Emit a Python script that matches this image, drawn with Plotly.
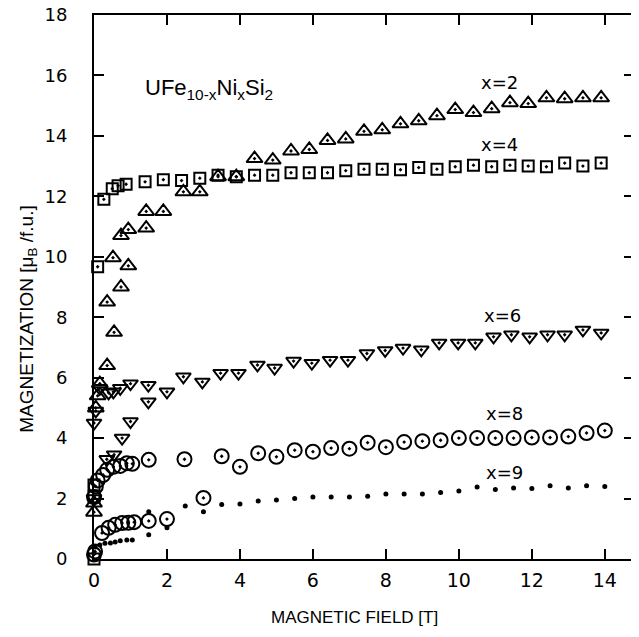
import plotly.graph_objects as go

# ---- data (field in T, magnetization in mu_B / f.u.) ----
x2_field = [0.0, 0.0, 0.05, 0.1, 0.16, 0.36, 0.55, 0.36, 0.74, 0.52, 0.94, 0.74, 0.94, 1.43, 1.43, 1.9,
            2.45, 2.9, 3.4, 3.9, 4.4, 4.9, 5.4, 5.9, 6.4, 6.9, 7.4, 7.9, 8.4, 8.9, 9.4, 9.9, 10.4, 10.9,
            11.4, 11.9, 12.4, 12.9, 13.4, 13.9]
x2_mag = [1.55, 1.85, 5.0, 5.4, 5.8, 6.4, 7.5, 8.5, 9.0, 9.97, 9.7, 10.7, 10.9, 10.95, 11.5, 11.5,
          12.15, 12.15, 12.65, 12.65, 13.25, 13.2, 13.5, 13.55, 13.85, 13.9, 14.15, 14.2, 14.4, 14.5,
          14.67, 14.87, 14.77, 14.9, 15.1, 15.07, 15.26, 15.23, 15.26, 15.26]

x4_field = [0.0, 0.0, 0.0, 0.1, 0.27, 0.5, 0.66, 0.88, 1.4, 1.9, 2.4, 2.9, 3.4, 3.9, 4.4, 4.9, 5.4, 5.9,
            6.4, 6.9, 7.4, 7.9, 8.4, 8.9, 9.4, 9.9, 10.4, 10.9, 11.4, 11.9, 12.4, 12.9, 13.4, 13.9]
x4_mag = [0.0, 2.05, 2.45, 9.67, 11.9, 12.25, 12.35, 12.4, 12.48, 12.55, 12.52, 12.6, 12.7, 12.65, 12.7,
          12.7, 12.78, 12.78, 12.78, 12.85, 12.9, 12.9, 12.88, 12.95, 12.9, 12.98, 13.03, 12.98, 13.03,
          13.0, 12.98, 13.1, 13.0, 13.1]

x6_field = [0.0, 0.0, 0.05, 0.16, 0.4, 0.53, 0.72, 1.0, 1.0, 0.77, 0.55, 0.35, 1.49, 1.49, 2.0, 2.45,
            2.97, 3.47, 3.96, 4.48, 4.95, 5.47, 5.97, 6.47, 6.96, 7.48, 7.98, 8.47, 8.97, 9.46, 9.98,
            10.45, 10.95, 11.44, 11.94, 12.43, 12.9, 13.4, 13.9]
x6_mag = [2.0, 4.5, 4.9, 5.65, 5.5, 5.53, 5.65, 5.8, 4.55, 4.0, 3.45, 3.3, 5.75, 5.2, 5.53, 6.03, 5.86,
          6.15, 6.15, 6.42, 6.32, 6.55, 6.48, 6.58, 6.58, 6.8, 6.9, 6.98, 6.92, 7.15, 7.15, 7.15, 7.35,
          7.42, 7.35, 7.42, 7.42, 7.58, 7.48]

x8_field = [0.0, 0.03, 0.22, 0.4, 0.58, 0.77, 0.94, 1.1, 1.5, 2.0, 3.0, 0.0, 0.05, 0.1, 0.25, 0.36, 0.53,
            0.72, 0.9, 1.05, 1.5, 2.48, 3.5, 4.0, 4.5, 5.0, 5.5, 6.0, 6.5, 7.0, 7.5, 8.0, 8.5, 9.0, 9.5,
            10.0, 10.5, 11.0, 11.5, 12.0, 12.5, 13.0, 13.5, 14.0]
x8_mag = [0.15, 0.25, 0.86, 1.03, 1.13, 1.19, 1.2, 1.22, 1.26, 1.32, 2.02, 2.05, 2.4, 2.6, 2.78, 2.95,
          3.05, 3.08, 3.17, 3.15, 3.28, 3.3, 3.4, 3.05, 3.5, 3.38, 3.6, 3.55, 3.67, 3.65, 3.85, 3.7,
          3.87, 3.9, 3.93, 4.0, 4.0, 4.0, 4.0, 4.02, 4.02, 4.05, 4.17, 4.25]

x9_field = [0.0, 0.03, 0.16, 0.3, 0.45, 0.58, 0.72, 0.9, 1.05, 1.5, 1.5, 2.0, 2.5, 3.0, 3.5, 4.0, 4.5,
            5.0, 5.5, 6.0, 6.5, 7.0, 7.5, 8.0, 8.5, 9.0, 9.5, 10.0, 10.5, 11.0, 11.5, 12.0, 12.5, 13.0,
            13.5, 14.0]
x9_mag = [0.2, 0.4, 0.46, 0.52, 0.53, 0.56, 0.6, 0.63, 0.63, 0.8, 1.56, 1.03, 1.75, 1.56, 1.8, 1.82,
          1.92, 1.95, 2.0, 2.05, 2.05, 2.05, 2.08, 2.15, 2.15, 2.15, 2.2, 2.25, 2.38, 2.3, 2.35, 2.33,
          2.42, 2.35, 2.42, 2.4]

series_labels = ["x=2", "x=4", "x=6", "x=8", "x=9"]
label_pos_x = [11.1, 11.1, 11.2, 11.25, 11.25]
label_pos_y = [15.76, 13.7, 8.05, 4.83, 2.85]

x_ticks = [0, 2, 4, 6, 8, 10, 12, 14]
y_ticks = [0, 2, 4, 6, 8, 10, 12, 14, 16, 18]

fig = go.Figure()

def add(xs, ys, symbol, size, lw=2):
    fig.add_trace(go.Scatter(
        x=xs, y=ys, mode="markers", cliponaxis=False, showlegend=False,
        marker=dict(symbol=symbol, size=size, color="black",
                    line=dict(color="black", width=lw))))

add(x2_field, x2_mag, "triangle-up-open-dot", 14)
add(x4_field, x4_mag, "square-open-dot", 11)
add(x6_field, x6_mag, "triangle-down-open-dot", 13)
add(x8_field, x8_mag, "circle-open-dot", 14)
add(x9_field, x9_mag, "circle", 5, 0)

for t, lx, ly in zip(series_labels, label_pos_x, label_pos_y):
    fig.add_annotation(x=lx, y=ly, text=t, showarrow=False,
                       font=dict(family="DejaVu Sans", size=18, color="black"))

fig.add_annotation(x=1.33, y=15.55, xanchor="left", yanchor="middle",
                   text="UFe<sub>10-x</sub>Ni<sub>x</sub>Si<sub>2</sub>", showarrow=False,
                   font=dict(family="Liberation Sans", size=22, color="black"))

fig.add_annotation(xref="paper", yref="paper", x=0.483, y=-0.108, xanchor="center", yanchor="middle",
                   text="MAGNETIC FIELD [T]",
                   showarrow=False, font=dict(family="Liberation Sans", size=17, color="black"))
fig.add_annotation(xref="paper", yref="paper", x=-0.122, y=0.44, xanchor="center", yanchor="middle",
                   textangle=-90, text="MAGNETIZATION [μ<sub>B</sub> /f.u.]",
                   showarrow=False, font=dict(family="Liberation Sans", size=19, color="black"))

axis_common = dict(showline=True, linecolor="black", linewidth=2, mirror="ticks",
                   ticks="inside", ticklen=10, tickwidth=1.5, tickcolor="black",
                   showgrid=False, zeroline=False, automargin=False, ticklabeloverflow="allow")

fig.update_xaxes(range=[0, 14.8], tickvals=x_ticks, ticklabelstandoff=3,
                 tickfont=dict(family="DejaVu Sans", size=19, color="black"), **axis_common)
fig.update_yaxes(range=[0, 18], tickvals=y_ticks, ticklabelstandoff=21,
                 tickfont=dict(family="DejaVu Sans", size=18, color="black"), **axis_common)

# page body has an 8 px default margin, compensated here
fig.update_layout(width=639, height=637, margin=dict(l=86, r=13, t=7, b=86),
                  plot_bgcolor="white", paper_bgcolor="white")

fig.write_html("out.html")
